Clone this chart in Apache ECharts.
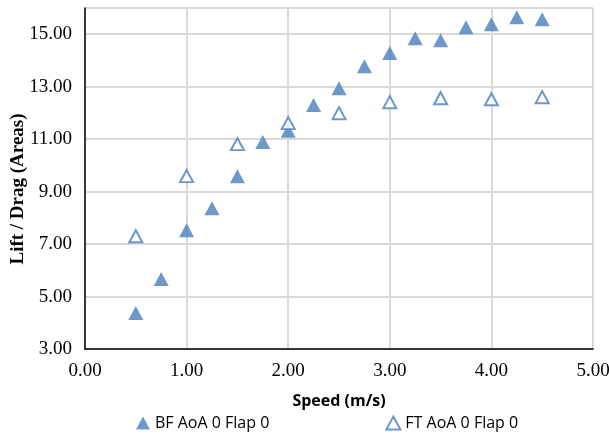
<!DOCTYPE html>
<html>
<head>
<meta charset="utf-8">
<script src="https://cdn.jsdelivr.net/npm/echarts@6/dist/echarts.min.js"></script>
<style>
  html, body { margin: 0; padding: 0; background: #fff; }
  #chart { width: 609px; height: 439px; }
</style>
</head>
<body>
<div id="chart"></div>
<script>
// speed (m/s) vs lift/drag
const bfSpeed = [0.5, 0.75, 1.0, 1.25, 1.5, 1.75, 2.0, 2.25, 2.5, 2.75, 3.0, 3.25, 3.5, 3.75, 4.0, 4.25, 4.5]
const bfValues = [4.37, 5.67, 7.53, 8.37, 9.59, 10.89, 11.32, 12.3, 12.94, 13.78, 14.28, 14.85, 14.77, 15.27, 15.38, 15.65, 15.57]
const ftSpeed = [0.5, 1.0, 1.5, 2.0, 2.5, 3.0, 3.5, 4.0, 4.5]
const ftValues = [7.3, 9.59, 10.81, 11.61, 11.99, 12.41, 12.56, 12.52, 12.6]
const seriesNames = ['BF AoA 0 Flap 0', 'FT AoA 0 Flap 0']
const yTitle = 'Lift / Drag (Areas)'

const blue = '#4a7ebb'
const chart = echarts.init(document.getElementById('chart'))

const pairs = (xs, ys) => xs.map((x, i) => [x, ys[i]])

chart.setOption({
  animation: false,
  grid: {
    left: 85,
    right: 16,
    top: 8,
    bottom: 90,
    outerBoundsMode: 'none',
    show: true,
    borderColor: '#222',
    borderWidth: 1
  },
  // y title drawn separately so it can sit a bit below the plot centre, like the original
  graphic: [{
    type: 'text',
    x: 18,
    y: 189,
    rotation: Math.PI / 2,
    style: {
      text: yTitle,
      fontFamily: 'Liberation Serif',
      fontWeight: 'bold',
      fontSize: 19,
      fill: '#000',
      align: 'center',
      verticalAlign: 'middle'
    }
  }],
  legend: {
    bottom: 3,
    left: 131,
    itemGap: 116,
    itemWidth: 14,
    itemHeight: 13,
    textStyle: { fontFamily: 'Open Sans', fontSize: 16, color: '#000' },
    data: seriesNames
  },
  xAxis: {
    type: 'value',
    min: 0,
    max: 5,
    interval: 1,
    name: 'Speed (m/s)',
    nameLocation: 'middle',
    nameGap: 44,
    nameTextStyle: { fontFamily: 'Open Sans', fontWeight: 'bold', fontSize: 16, color: '#000' },
    axisLine: { lineStyle: { color: '#000', width: 1.5 } },
    axisTick: { show: false },
    axisLabel: {
      fontFamily: 'Liberation Serif', fontSize: 19, color: '#000', margin: 13,
      formatter: v => v.toFixed(2)
    },
    splitLine: { lineStyle: { color: '#d9d9d9', width: 2 } }
  },
  yAxis: {
    type: 'value',
    min: 3,
    max: 16,
    interval: 2,
    axisLine: { show: true, lineStyle: { color: '#000', width: 1.5 } },
    axisTick: { show: false },
    axisLabel: {
      fontFamily: 'Liberation Serif', fontSize: 19, color: '#000', margin: 13,
      showMaxLabel: false,
      formatter: v => v.toFixed(2)
    },
    splitLine: { lineStyle: { color: '#d9d9d9', width: 2 } }
  },
  series: [
    {
      name: seriesNames[0],
      type: 'scatter',
      symbol: 'triangle',
      symbolSize: [15, 14],
      data: pairs(bfSpeed, bfValues),
      itemStyle: { color: blue }
    },
    {
      name: seriesNames[1],
      type: 'scatter',
      symbol: 'triangle',
      symbolSize: [13, 12],
      data: pairs(ftSpeed, ftValues),
      itemStyle: { color: '#fff', borderColor: blue, borderWidth: 2 }
    }
  ]
})
</script>
</body>
</html>
